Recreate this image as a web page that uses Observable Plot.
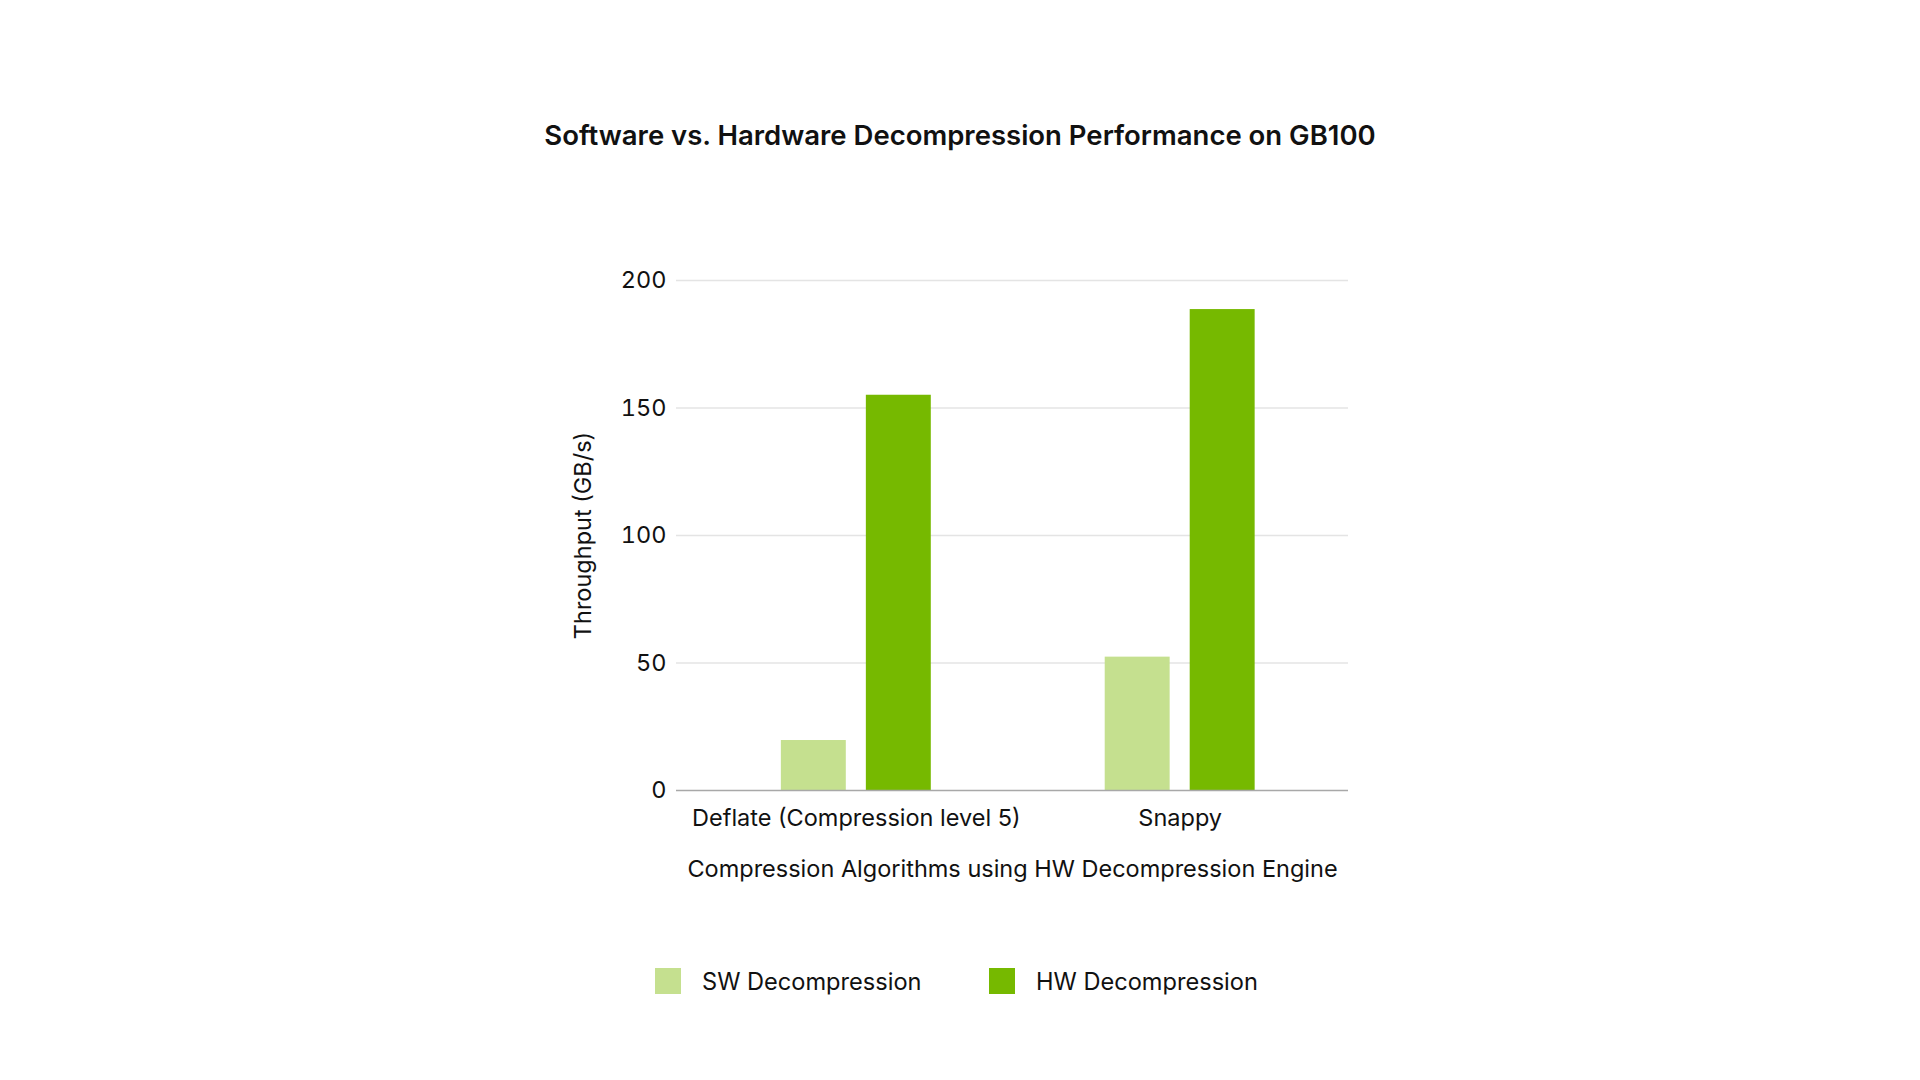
<!DOCTYPE html>
<html>
<head>
<meta charset="utf-8">
<script src="https://cdn.jsdelivr.net/npm/d3@7"></script>
<script src="https://cdn.jsdelivr.net/npm/@observablehq/plot@0.6"></script>
<style>
  html, body { margin: 0; padding: 0; background: #ffffff; }
  body { width: 1920px; height: 1080px; font-family: Inter, "Noto Sans", sans-serif; color: #111111; overflow: hidden; }
  #title { height: 200px; box-sizing: border-box; padding-top: 120px; text-align: center; font-size: 27.5px; line-height: 30px; font-weight: 600; }
  #legend { position: relative; height: 160px; font-size: 23.6px; }
  .item { position: absolute; top: 48px; display: flex; align-items: center; height: 26px; }
  .swatch { width: 26px; height: 26px; margin-right: 21px; }
</style>
</head>
<body>
<div id="title"></div>
<div id="chart"></div>
<div id="legend"></div>
<script>
// Throughput of software vs. hardware decompression, per compression algorithm
const titleText = "Software vs. Hardware Decompression Performance on GB100";
const categories = ["Deflate (Compression level 5)", "Snappy"];
const series = ["SW Decompression", "HW Decompression"];
const swThroughput = [19.6, 52.3];
const hwThroughput = [155.0, 188.6];
const seriesColors = ["#c5e08f", "#76b900"];
const yTicks = [0, 50, 100, 150, 200];
const xTitle = "Compression Algorithms using HW Decompression Engine";
const yTitle = "Throughput (GB/s)";

const swRows = categories.map((category, i) => ({category, series: series[0], value: swThroughput[i]}));
const hwRows = categories.map((category, i) => ({category, series: series[1], value: hwThroughput[i]}));

document.getElementById("title").textContent = titleText;

// Each category band holds a pair of bars: SW on the left half, HW on the right half
const barGap = 85;

const chart = Plot.plot({
  width: 1920,
  height: 720,
  marginTop: 80,
  marginBottom: 130,
  marginLeft: 676,
  marginRight: 572,
  style: {fontFamily: "Inter, 'Noto Sans', sans-serif", fontSize: "23.5px", color: "#111111", background: "#ffffff"},
  x: {
    domain: categories,
    paddingInner: 0.537,
    paddingOuter: 0.306,
    align: 0.529,
    round: false,
    label: xTitle,
    labelAnchor: "center",
    labelOffset: 86,
    tickSize: 0,
    tickPadding: 19
  },
  y: {
    domain: [0, 200],
    ticks: yTicks,
    tickSize: 0,
    tickPadding: 10,
    label: yTitle,
    labelAnchor: "center",
    labelArrow: "none",
    labelOffset: 102
  },
  color: {domain: series, range: seriesColors},
  marks: [
    Plot.gridY(yTicks.slice(1), {stroke: "#e4e4e4", strokeOpacity: 1, strokeWidth: 1.5}),
    Plot.barY(swRows, {x: "category", y: "value", fill: "series", insetRight: barGap}),
    Plot.barY(hwRows, {x: "category", y: "value", fill: "series", insetLeft: barGap}),
    Plot.ruleY([0], {stroke: "#a8a8a8", strokeWidth: 1.5})
  ]
});
document.getElementById("chart").appendChild(chart);

// Legend below the chart
const legend = document.getElementById("legend");
const legendLeft = [655, 989];
series.forEach((name, i) => {
  const item = document.createElement("div");
  item.className = "item";
  item.style.left = legendLeft[i] + "px";
  const sw = document.createElement("div");
  sw.className = "swatch";
  sw.style.background = seriesColors[i];
  const label = document.createElement("span");
  label.textContent = name;
  item.appendChild(sw);
  item.appendChild(label);
  legend.appendChild(item);
});
</script>
</body>
</html>
